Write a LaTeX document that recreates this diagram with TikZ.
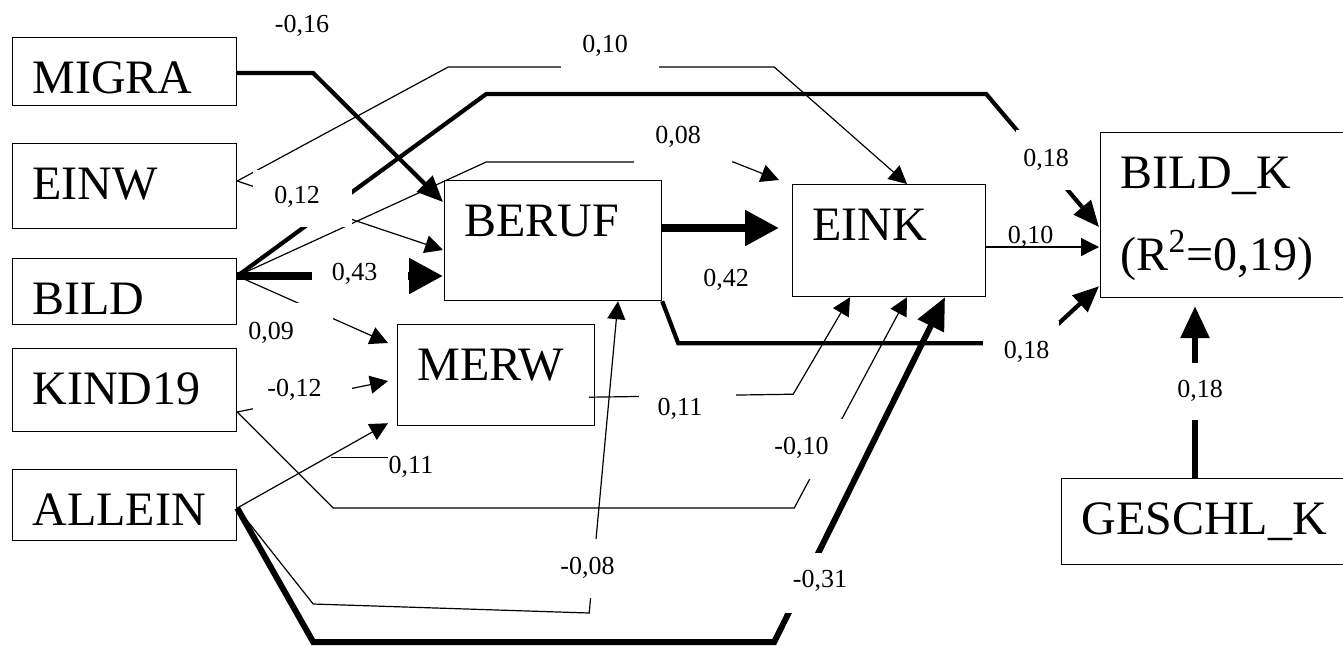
\documentclass[tikz,border=0pt]{standalone}
\usepackage{fontspec}
\setmainfont{Liberation Serif}
\usetikzlibrary{arrows.meta, calc}

\tikzset{
  varbox/.style={draw, line width=0.6pt, anchor=north west, inner xsep=10pt,
    inner ysep=0pt, align=left, text height=28pt, font=\fontsize{24}{29}\selectfont},
  coef/.style={anchor=base, inner sep=0pt, font=\fontsize{13}{15}\selectfont},
  weak/.style={line width=0.6pt, -{Triangle[length=9pt, width=9pt]}},
  medium/.style={line width=2.1pt, -{Triangle[length=13pt, width=11pt]}},
  firm/.style={line width=3pt, -{Triangle[length=16pt, width=14pt]}},
  strong/.style={line width=4pt, -{Triangle[length=17pt, width=17pt]}}
}

\begin{document}
\begin{tikzpicture}[x=0.5pt, y=-0.5pt]
  \useasboundingbox (0,0) rectangle (1343,645);

  % variables
  \node[varbox, text width=92pt, text depth=6pt] (migra) at (12,37) {MIGRA};
  \node[varbox, text width=92pt, text depth=14.5pt] (einw) at (12,143) {EINW};
  \node[varbox, text width=92pt, text depth=5pt] (bild) at (12,258) {BILD};
  \node[varbox, text width=92pt, text depth=13.5pt] (kind) at (12,348) {KIND19};
  \node[varbox, text width=92pt, text depth=7.5pt] (allein) at (12,469) {ALLEIN};
  \node[varbox, text width=88.5pt, text depth=32pt] (beruf) at (444,180) {BERUF};
  \node[varbox, text width=76.5pt, text depth=28pt] (eink) at (792,184) {EINK};
  \node[varbox, text width=78.5pt, text depth=22.5pt] (merw) at (397,324) {MERW};
  \node[varbox, text width=110pt, text depth=54.5pt, font=\fontsize{24}{41}\selectfont]
    (bildk) at (1100,132) {BILD\_K\\(R\textsuperscript{2}=0,19)};
  \node[varbox, text width=130pt, text depth=15pt] (geschl) at (1061,478) {GESCHL\_K};

  % where the paths leave the boxes on the left
  \coordinate (pm) at ($(migra.north east)+(0,36)$);
  \coordinate (pw) at ($(einw.north east)+(0,38)$);
  \coordinate (pb) at ($(bild.north east)+(0,18)$);
  \coordinate (pk) at ($(kind.north east)+(0,64)$);
  \coordinate (pa) at ($(allein.north east)+(0,39)$);

  % paths
  \draw[medium] (pm) -- ++(76,0) -- ($(beruf.north west)+(-1,22)$);
  \draw[weak] (pw) -- ++(211,-114) -- ++(326,0) -- ($(eink.north west)+(115,0)$);
  \draw[weak] (pw) -- ($(beruf.north west)+(-1,70)$);
  \draw[medium] (pb) -- ++(249,-182) -- ++(500,0) -- ($(bildk.north west)+(-1,95)$);
  \draw[strong] (pb) -- ($(beruf.north west)+(-1,96)$);
  \draw[weak] (pb) -- ++(249,-114) -- ++(247,0) -- ($(eink.north west)+(-13,-4)$);
  \draw[weak] (pb) -- ($(merw.north west)+(-9,19)$);
  \draw[weak] (pk) -- ($(merw.north west)+(-9,57)$);
  \draw[weak] (pk) -- ++(96,96) -- ++(461,0) -- ($(eink.south west)+(115,0)$);
  \draw[weak] ($(merw.south east)+(-6,-29)$) -- ++(204,-3) -- ($(eink.south west)+(58,0)$);
  \draw[weak] (pa) -- ($(merw.south west)+(-9,-3)$);
  \draw[weak] (pa) -- ++(76,96) -- ++(276,9) -- ($(beruf.south west)+(174,0)$);
  \draw[firm] (pa) -- ++(76,134) -- ++(461,0) -- ($(eink.south west)+(153,0)$);
  \draw[medium] (beruf.south east) -- ++(16,42) -- ++(359,0) -- ($(bildk.south west)+(-1,-12)$);
  \draw[strong] ($(beruf.north east)+(0,48)$) -- ($(eink.north west)+(-13,44)$);
  \draw[weak] ($(eink.north east)+(0,63)$) -- ($(bildk.north west)+(-1,115)$);
  \draw[firm] ($(geschl.north west)+(134,0)$) -- ($(bildk.south west)+(95,8)$);

  % white boxes behind the coefficients
  \foreach \xa/\ya/\xb/\yb in {561/16/659/69, 634/106/732/165, 253/170/352/227,
      312/262/408/292, 245/303/333/346, 253/372/352/411, 639/384/736/422,
      765/419/843/479, 555/539/620/598, 780/553/852/613, 1016/130/1076/190,
      983/321/1059/366, 1170/363/1230/420}
    \fill[white] (\xa,\ya) rectangle (\xb,\yb);

  % coefficients
  \node[coef] (cmb) at (302,32) {-0,16};
  \node[coef] (cwe) at (605,52) {0,10};
  \node[coef] (cbe) at (678,143) {0,08};
  \node[coef] (cwb) at (297,203) {0,12};
  \node[coef] (cbb) at (354.5,280) {0,43};
  \node[coef] (cbm) at (271,339) {0,09};
  \node[coef] (ckm) at (294.5,396) {-0,12};
  \node[coef] (cam) at (411,473) {0,11};
  \node[coef] (cre) at (726,286) {0,42};
  \node[coef] (cme) at (680,415) {0,11};
  \node[coef] (cke) at (801.5,454) {-0,10};
  \node[coef] (cab) at (587.5,574) {-0,08};
  \node[coef] (cae) at (820,587) {-0,31};
  \node[coef] (cbk) at (1046,166) {0,18};
  \node[coef] (cek) at (1030.5,243) {0,10};
  \node[coef] (crk) at (1026.5,358) {0,18};
  \node[coef] (cgk) at (1200,397) {0,18};

  \draw[line width=0.6pt] ($(cam.north west)+(-57,2)$) -- ($(cam.north west)+(0,2)$);
\end{tikzpicture}
\end{document}
